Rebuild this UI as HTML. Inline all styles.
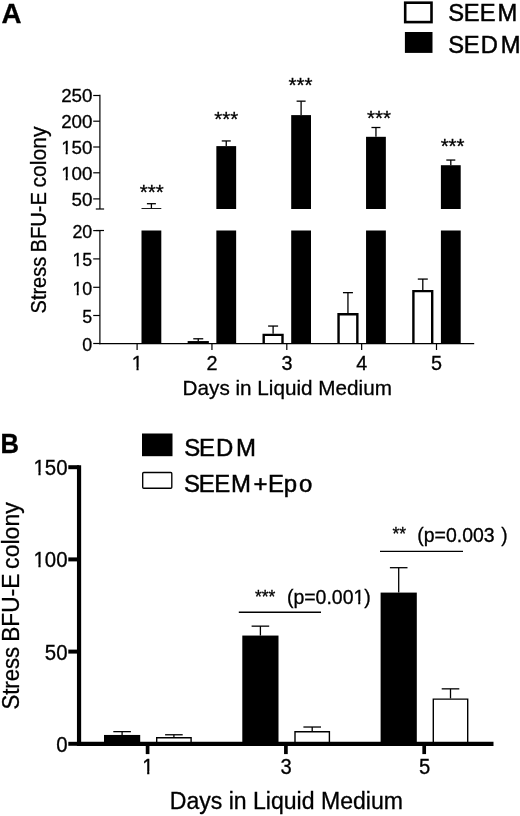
<!DOCTYPE html>
<html lang="en"><head><meta charset="utf-8"><title>Stress BFU-E colony</title>
<style>html,body{margin:0;padding:0;background:#fff}svg{display:block;filter:blur(0.4px)}text{font-family:'Liberation Sans', sans-serif;fill:#000;stroke:#000;stroke-width:0.3px}</style>
</head><body>
<svg width="520" height="816" viewBox="0 0 520 816">
<rect width="520" height="816" fill="#fff"/>
<text x="1.5" y="23" font-size="27.7" text-anchor="start" font-weight="bold">A</text>
<rect x="405.20" y="2.70" width="26.30" height="19.40" fill="#fff" stroke="#000" stroke-width="2.6"/>
<rect x="404.90" y="32.00" width="27.60" height="20.90" fill="#000"/>
<text transform="scale(0.97,1)" x="462.09 478.00 494.65 512.89" y="21.3" font-size="24.5" style="stroke-width:0.5px">SEEM</text>
<text transform="scale(0.97,1)" x="462.09 478.00 495.73 516.14" y="53.1" font-size="24.5" style="stroke-width:0.5px">SEDM</text>
<line x1="99.9" y1="94.8" x2="99.9" y2="209" stroke="#000" stroke-width="1.2" stroke-linecap="butt"/>
<line x1="99.9" y1="230.5" x2="99.9" y2="344.2" stroke="#000" stroke-width="1.2" stroke-linecap="butt"/>
<line x1="93.2" y1="95.5" x2="99.9" y2="95.5" stroke="#000" stroke-width="1.2" stroke-linecap="butt"/>
<text x="92.5" y="102.2" font-size="18.8" text-anchor="end" font-weight="normal">250</text>
<line x1="93.2" y1="121.2" x2="99.9" y2="121.2" stroke="#000" stroke-width="1.2" stroke-linecap="butt"/>
<text x="92.5" y="127.9" font-size="18.8" text-anchor="end" font-weight="normal">200</text>
<line x1="93.2" y1="147" x2="99.9" y2="147" stroke="#000" stroke-width="1.2" stroke-linecap="butt"/>
<text x="92.5" y="153.7" font-size="18.8" text-anchor="end" font-weight="normal">150</text>
<rect x="61.37" y="151.10" width="4.30" height="4.80" fill="#fff"/>
<rect x="67.72" y="151.10" width="3.95" height="4.80" fill="#fff"/>
<line x1="93.2" y1="172.8" x2="99.9" y2="172.8" stroke="#000" stroke-width="1.2" stroke-linecap="butt"/>
<text x="92.5" y="179.5" font-size="18.8" text-anchor="end" font-weight="normal">100</text>
<rect x="61.37" y="176.90" width="4.30" height="4.80" fill="#fff"/>
<rect x="67.72" y="176.90" width="3.95" height="4.80" fill="#fff"/>
<line x1="93.2" y1="198.9" x2="99.9" y2="198.9" stroke="#000" stroke-width="1.2" stroke-linecap="butt"/>
<text x="92.5" y="205.6" font-size="18.8" text-anchor="end" font-weight="normal">50</text>
<line x1="95.8" y1="209" x2="104.1" y2="209" stroke="#000" stroke-width="1.2" stroke-linecap="butt"/>
<line x1="95.8" y1="230.5" x2="104" y2="230.5" stroke="#000" stroke-width="1.2" stroke-linecap="butt"/>
<line x1="93.2" y1="230.6" x2="99.9" y2="230.6" stroke="#000" stroke-width="1.2" stroke-linecap="butt"/>
<text transform="translate(92.3,237.80) scale(0.95,1)" font-size="18.8" text-anchor="end">20</text>
<line x1="93.2" y1="258.9" x2="99.9" y2="258.9" stroke="#000" stroke-width="1.2" stroke-linecap="butt"/>
<text transform="translate(92.3,266.10) scale(0.95,1)" font-size="18.8" text-anchor="end">15</text>
<rect x="72.60" y="263.50" width="4.13" height="4.80" fill="#fff"/>
<rect x="78.70" y="263.50" width="3.79" height="4.80" fill="#fff"/>
<line x1="93.2" y1="287.3" x2="99.9" y2="287.3" stroke="#000" stroke-width="1.2" stroke-linecap="butt"/>
<text transform="translate(92.3,294.50) scale(0.95,1)" font-size="18.8" text-anchor="end">10</text>
<rect x="72.60" y="291.90" width="4.13" height="4.80" fill="#fff"/>
<rect x="78.70" y="291.90" width="3.79" height="4.80" fill="#fff"/>
<line x1="93.2" y1="315.5" x2="99.9" y2="315.5" stroke="#000" stroke-width="1.2" stroke-linecap="butt"/>
<text transform="translate(92.3,322.70) scale(0.95,1)" font-size="18.8" text-anchor="end">5</text>
<line x1="93.2" y1="343.5" x2="99.9" y2="343.5" stroke="#000" stroke-width="1.2" stroke-linecap="butt"/>
<text transform="translate(92.3,350.70) scale(0.95,1)" font-size="18.8" text-anchor="end">0</text>
<line x1="137.1" y1="343.6" x2="137.1" y2="350" stroke="#000" stroke-width="1.2" stroke-linecap="butt"/>
<text x="137.2" y="370" font-size="19.8" text-anchor="middle" font-weight="normal">1</text>
<rect x="132.00" y="367.32" width="4.47" height="4.88" fill="#fff"/>
<rect x="138.62" y="367.32" width="4.12" height="4.88" fill="#fff"/>
<line x1="211.95" y1="343.6" x2="211.95" y2="350" stroke="#000" stroke-width="1.2" stroke-linecap="butt"/>
<text x="212.04999999999998" y="370" font-size="19.8" text-anchor="middle" font-weight="normal">2</text>
<line x1="286.79999999999995" y1="343.6" x2="286.79999999999995" y2="350" stroke="#000" stroke-width="1.2" stroke-linecap="butt"/>
<text x="286.9" y="370" font-size="19.8" text-anchor="middle" font-weight="normal">3</text>
<line x1="361.65" y1="343.6" x2="361.65" y2="350" stroke="#000" stroke-width="1.2" stroke-linecap="butt"/>
<text x="361.75" y="370" font-size="19.8" text-anchor="middle" font-weight="normal">4</text>
<line x1="436.5" y1="343.6" x2="436.5" y2="350" stroke="#000" stroke-width="1.2" stroke-linecap="butt"/>
<text x="436.6" y="370" font-size="19.8" text-anchor="middle" font-weight="normal">5</text>
<text x="182.6" y="395.2" font-size="20.2" text-anchor="start" font-weight="normal" textLength="209.3" lengthAdjust="spacingAndGlyphs">Days in Liquid Medium</text>
<text transform="translate(46.0,313.4) rotate(-90)" font-size="21.2" textLength="56.5" lengthAdjust="spacingAndGlyphs">Stress</text>
<text transform="translate(46.0,252.4) rotate(-90)" font-size="21.2" textLength="60.4" lengthAdjust="spacingAndGlyphs">BFU-E</text>
<text transform="translate(46.0,187.5) rotate(-90)" font-size="21.2" textLength="61" lengthAdjust="spacingAndGlyphs">colony</text>
<rect x="141.50" y="230.50" width="19.80" height="113.10" fill="#000"/>
<rect x="141.50" y="208.10" width="19.80" height="0.90" fill="#000"/>
<line x1="151.39999999999998" y1="208.0988" x2="151.39999999999998" y2="203.70770000000002" stroke="#000" stroke-width="1.3" stroke-linecap="butt"/>
<line x1="146.89999999999998" y1="203.70770000000002" x2="155.89999999999998" y2="203.70770000000002" stroke="#000" stroke-width="1.3" stroke-linecap="butt"/>
<rect x="187.65" y="341.05" width="21.20" height="2.55" fill="#000"/>
<line x1="198.25" y1="341.053" x2="198.25" y2="338.78900000000004" stroke="#000" stroke-width="1.3" stroke-linecap="butt"/>
<line x1="193.25" y1="338.78900000000004" x2="203.25" y2="338.78900000000004" stroke="#000" stroke-width="1.3" stroke-linecap="butt"/>
<rect x="216.35" y="230.50" width="19.80" height="113.10" fill="#000"/>
<rect x="216.35" y="146.11" width="19.80" height="62.89" fill="#000"/>
<line x1="226.25" y1="146.10680000000002" x2="226.25" y2="140.94080000000002" stroke="#000" stroke-width="1.3" stroke-linecap="butt"/>
<line x1="221.75" y1="140.94080000000002" x2="230.75" y2="140.94080000000002" stroke="#000" stroke-width="1.3" stroke-linecap="butt"/>
<path d="M263.70 343.60V334.90H282.50V343.60" fill="#fff" stroke="#000" stroke-width="2.4" stroke-linejoin="miter"/>
<line x1="273.0999999999999" y1="333.69500000000005" x2="273.0999999999999" y2="326.05400000000003" stroke="#000" stroke-width="1.3" stroke-linecap="butt"/>
<line x1="268.0999999999999" y1="326.05400000000003" x2="278.0999999999999" y2="326.05400000000003" stroke="#000" stroke-width="1.3" stroke-linecap="butt"/>
<rect x="291.20" y="230.50" width="19.80" height="113.10" fill="#000"/>
<rect x="291.20" y="115.11" width="19.80" height="93.89" fill="#000"/>
<line x1="301.0999999999999" y1="115.11080000000001" x2="301.0999999999999" y2="101.16260000000003" stroke="#000" stroke-width="1.3" stroke-linecap="butt"/>
<line x1="296.5999999999999" y1="101.16260000000003" x2="305.5999999999999" y2="101.16260000000003" stroke="#000" stroke-width="1.3" stroke-linecap="butt"/>
<path d="M338.55 343.60V314.24H357.35V343.60" fill="#fff" stroke="#000" stroke-width="2.4" stroke-linejoin="miter"/>
<line x1="347.94999999999993" y1="313.036" x2="347.94999999999993" y2="292.66" stroke="#000" stroke-width="1.3" stroke-linecap="butt"/>
<line x1="342.94999999999993" y1="292.66" x2="352.94999999999993" y2="292.66" stroke="#000" stroke-width="1.3" stroke-linecap="butt"/>
<rect x="366.05" y="230.50" width="19.80" height="113.10" fill="#000"/>
<rect x="366.05" y="136.81" width="19.80" height="72.19" fill="#000"/>
<line x1="375.94999999999993" y1="136.80800000000002" x2="375.94999999999993" y2="127.50920000000002" stroke="#000" stroke-width="1.3" stroke-linecap="butt"/>
<line x1="371.44999999999993" y1="127.50920000000002" x2="380.44999999999993" y2="127.50920000000002" stroke="#000" stroke-width="1.3" stroke-linecap="butt"/>
<path d="M413.40 343.60V291.14H432.20V343.60" fill="#fff" stroke="#000" stroke-width="2.4" stroke-linejoin="miter"/>
<line x1="422.79999999999995" y1="289.94320000000005" x2="422.79999999999995" y2="279.076" stroke="#000" stroke-width="1.3" stroke-linecap="butt"/>
<line x1="417.79999999999995" y1="279.076" x2="427.79999999999995" y2="279.076" stroke="#000" stroke-width="1.3" stroke-linecap="butt"/>
<rect x="440.90" y="230.50" width="19.80" height="113.10" fill="#000"/>
<rect x="440.90" y="165.22" width="19.80" height="43.78" fill="#000"/>
<line x1="450.79999999999995" y1="165.221" x2="450.79999999999995" y2="160.055" stroke="#000" stroke-width="1.3" stroke-linecap="butt"/>
<line x1="446.29999999999995" y1="160.055" x2="455.29999999999995" y2="160.055" stroke="#000" stroke-width="1.3" stroke-linecap="butt"/>
<line x1="99.30000000000001" y1="343.6" x2="474.2" y2="343.6" stroke="#000" stroke-width="1.2" stroke-linecap="butt"/>
<text x="151.8" y="199.3" font-size="20.5" text-anchor="middle" font-weight="normal">***</text>
<text x="226.3" y="125.6" font-size="20.5" text-anchor="middle" font-weight="normal">***</text>
<text x="300.4" y="92" font-size="20.5" text-anchor="middle" font-weight="normal">***</text>
<text x="379" y="125" font-size="20.5" text-anchor="middle" font-weight="normal">***</text>
<text x="452.6" y="152.5" font-size="20.5" text-anchor="middle" font-weight="normal">***</text>
<text transform="translate(0.4,453.1) scale(1,1.09)" font-size="25.6" font-weight="bold">B</text>
<rect x="142.00" y="433.50" width="30.50" height="22.70" fill="#000"/>
<rect x="142.7" y="472.5" width="29.1" height="15.7" rx="1" fill="#fff" stroke="#000" stroke-width="1.35"/>
<text transform="scale(0.97,1)" x="189.91 205.25 222.72 243.32" y="455.7" font-size="24.7" style="stroke-width:0.5px">SEDM</text>
<text transform="scale(0.97,1)" x="189.66 204.94 220.92 238.06 261.25 276.18 292.60 308.34" y="492" font-size="24.7" style="stroke-width:0.5px">SEEM+Epo</text>
<line x1="79.05" y1="465.3" x2="79.05" y2="745.9" stroke="#000" stroke-width="4.2" stroke-linecap="butt"/>
<line x1="68.3" y1="743.8" x2="79.05" y2="743.8" stroke="#000" stroke-width="4.0" stroke-linecap="butt"/>
<text transform="translate(67.5,751.70) scale(1,1.075)" font-size="20.4" text-anchor="end">0</text>
<line x1="68.3" y1="651.5999999999999" x2="79.05" y2="651.5999999999999" stroke="#000" stroke-width="4.0" stroke-linecap="butt"/>
<text transform="translate(67.5,659.50) scale(1,1.075)" font-size="20.4" text-anchor="end">50</text>
<line x1="68.3" y1="559.4" x2="79.05" y2="559.4" stroke="#000" stroke-width="4.0" stroke-linecap="butt"/>
<text transform="translate(67.5,567.30) scale(1,1.075)" font-size="20.4" text-anchor="end">100</text>
<rect x="33.82" y="564.46" width="4.58" height="5.04" fill="#fff"/>
<rect x="40.60" y="564.46" width="4.22" height="5.04" fill="#fff"/>
<line x1="68.3" y1="467.19999999999993" x2="79.05" y2="467.19999999999993" stroke="#000" stroke-width="4.0" stroke-linecap="butt"/>
<text transform="translate(67.5,475.10) scale(1,1.075)" font-size="20.4" text-anchor="end">150</text>
<rect x="33.82" y="472.26" width="4.58" height="5.04" fill="#fff"/>
<rect x="40.60" y="472.26" width="4.22" height="5.04" fill="#fff"/>
<line x1="147.6" y1="743.8" x2="147.6" y2="754.1" stroke="#000" stroke-width="3.7" stroke-linecap="butt"/>
<text transform="translate(147.90,774.2) scale(1,1.075)" font-size="20.2" text-anchor="middle">1</text>
<rect x="142.62" y="771.38" width="4.54" height="5.02" fill="#fff"/>
<rect x="149.35" y="771.38" width="4.18" height="5.02" fill="#fff"/>
<line x1="285.9" y1="743.8" x2="285.9" y2="754.1" stroke="#000" stroke-width="3.7" stroke-linecap="butt"/>
<text transform="translate(286.20,774.2) scale(1,1.075)" font-size="20.2" text-anchor="middle">3</text>
<line x1="424.2" y1="743.8" x2="424.2" y2="754.1" stroke="#000" stroke-width="3.7" stroke-linecap="butt"/>
<text transform="translate(424.50,774.2) scale(1,1.075)" font-size="20.2" text-anchor="middle">5</text>
<text transform="translate(169.8,809.2) scale(1,1.06)" font-size="22.9" textLength="233.1" lengthAdjust="spacingAndGlyphs">Days in Liquid Medium</text>
<text transform="translate(19.1,709.6) rotate(-90)" font-size="23.3" textLength="62.8" lengthAdjust="spacingAndGlyphs">Stress</text>
<text transform="translate(19.1,641.8) rotate(-90)" font-size="23.3" textLength="68.2" lengthAdjust="spacingAndGlyphs">BFU-E</text>
<text transform="translate(19.1,568.9) rotate(-90)" font-size="23.3" textLength="66.7" lengthAdjust="spacingAndGlyphs">colony</text>
<rect x="104.00" y="734.95" width="36.20" height="8.85" fill="#000"/>
<line x1="122.1" y1="734.9488" x2="122.1" y2="731.6296" stroke="#000" stroke-width="1.3" stroke-linecap="butt"/>
<line x1="113.3" y1="731.6296" x2="130.9" y2="731.6296" stroke="#000" stroke-width="1.3" stroke-linecap="butt"/>
<path d="M156.70 743.80V737.68H191.10V743.80" fill="#fff" stroke="#000" stroke-width="1.4" stroke-linejoin="miter"/>
<line x1="173.9" y1="736.9771999999999" x2="173.9" y2="734.7643999999999" stroke="#000" stroke-width="1.3" stroke-linecap="butt"/>
<line x1="165.1" y1="734.7643999999999" x2="182.70000000000002" y2="734.7643999999999" stroke="#000" stroke-width="1.3" stroke-linecap="butt"/>
<rect x="242.30" y="635.56" width="36.20" height="108.24" fill="#000"/>
<line x1="260.4" y1="635.5572" x2="260.4" y2="626.1528" stroke="#000" stroke-width="1.3" stroke-linecap="butt"/>
<line x1="251.59999999999997" y1="626.1528" x2="269.2" y2="626.1528" stroke="#000" stroke-width="1.3" stroke-linecap="butt"/>
<path d="M295.00 743.80V731.78H329.40V743.80" fill="#fff" stroke="#000" stroke-width="1.4" stroke-linejoin="miter"/>
<line x1="312.19999999999993" y1="731.0763999999999" x2="312.19999999999993" y2="727.0196" stroke="#000" stroke-width="1.3" stroke-linecap="butt"/>
<line x1="303.3999999999999" y1="727.0196" x2="320.99999999999994" y2="727.0196" stroke="#000" stroke-width="1.3" stroke-linecap="butt"/>
<rect x="380.60" y="592.59" width="36.20" height="151.21" fill="#000"/>
<line x1="398.7" y1="592.592" x2="398.7" y2="567.698" stroke="#000" stroke-width="1.3" stroke-linecap="butt"/>
<line x1="389.9" y1="567.698" x2="407.5" y2="567.698" stroke="#000" stroke-width="1.3" stroke-linecap="butt"/>
<path d="M433.30 743.80V699.14H467.70V743.80" fill="#fff" stroke="#000" stroke-width="1.4" stroke-linejoin="miter"/>
<line x1="450.5" y1="698.4376" x2="450.5" y2="688.8488" stroke="#000" stroke-width="1.3" stroke-linecap="butt"/>
<line x1="441.7" y1="688.8488" x2="459.3" y2="688.8488" stroke="#000" stroke-width="1.3" stroke-linecap="butt"/>
<line x1="76.95" y1="743.8" x2="493.5" y2="743.8" stroke="#000" stroke-width="4.2" stroke-linecap="butt"/>
<line x1="238.8" y1="612.3" x2="321" y2="612.3" stroke="#000" stroke-width="1.4" stroke-linecap="butt"/>
<text x="265.2" y="603" font-size="17.5" text-anchor="middle" font-weight="normal">***</text>
<text transform="translate(286.9,603.8) scale(1,1.07)" font-size="19" textLength="83.9" lengthAdjust="spacingAndGlyphs">(p=0.001)</text>
<rect x="353.77" y="601.08" width="4.41" height="4.92" fill="#fff"/>
<rect x="360.30" y="601.08" width="4.06" height="4.92" fill="#fff"/>
<line x1="380" y1="551.4" x2="463" y2="551.4" stroke="#000" stroke-width="1.4" stroke-linecap="butt"/>
<text x="399.3" y="540.2" font-size="17.5" text-anchor="middle" font-weight="normal">**</text>
<text transform="translate(417.3,541.6) scale(1,1.07)" font-size="19" textLength="77.3" lengthAdjust="spacingAndGlyphs">(p=0.003</text>
<text transform="translate(501.3,541.6) scale(1,1.07)" font-size="19">)</text>
</svg>
</body></html>
